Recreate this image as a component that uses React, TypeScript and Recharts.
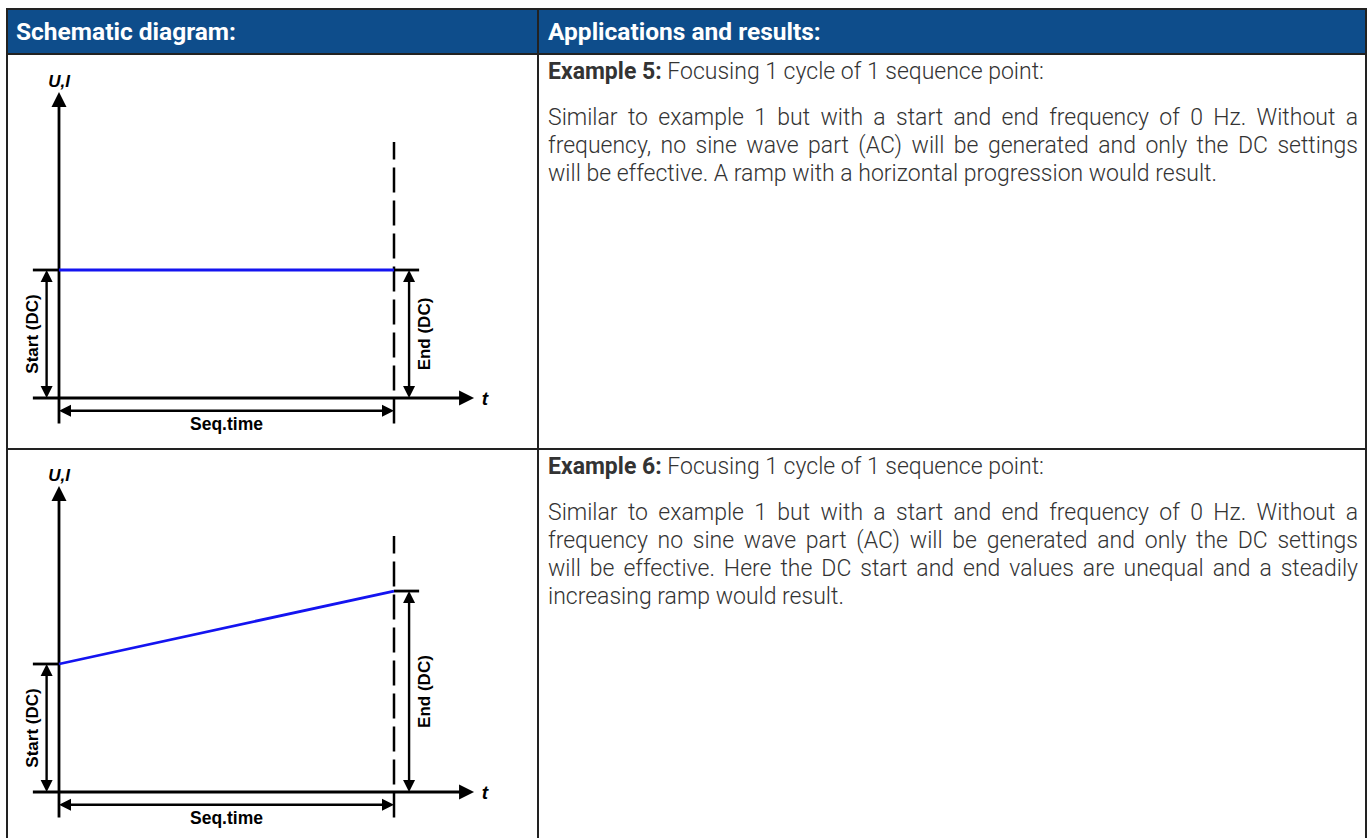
import React from 'react';
import { ComposedChart, Line, XAxis, YAxis, ReferenceLine, ReferenceDot } from 'recharts';

// ---- data ----
const timePoints = [0, 1]; // start / end of the sequence time (normalised)
const example5Dc = [5, 5]; // DC start / end (schematic units)
const example6Dc = [5, 7.85];

const headerLabels = ['Schematic diagram:', 'Applications and results:'];
const axisValueLabel = 'U,I';
const axisTimeLabel = 't';
const startLabel = 'Start (DC)';
const endLabel = 'End (DC)';
const durationLabel = 'Seq.time';

const example5Title = ['Example 5:', ' Focusing 1 cycle of 1 sequence point:'];
const example5Lines = [
  'Similar to example 1 but with a start and end frequency of 0 Hz. Without a',
  'frequency, no sine wave part (AC) will be generated and only the DC settings',
  'will be effective. A ramp with a horizontal progression would result.',
];
const example6Title = ['Example 6:', ' Focusing 1 cycle of 1 sequence point:'];
const example6Lines = [
  'Similar to example 1 but with a start and end frequency of 0 Hz. Without a',
  'frequency no sine wave part (AC) will be generated and only the DC settings',
  'will be effective. Here the DC start and end values are unequal and a steadily',
  'increasing ramp would result.',
];

// ---- schematic geometry (axis units) ----
const T_AXIS_FROM = -0.078;
const T_AXIS_TO = 1.239;
const V_AXIS_FROM = -1;
const V_AXIS_TO = 11.95;
const DASH_TOP = 10;
const START_ARROW_T = -0.037;
const END_ARROW_T = 1.045;
const END_TICK_T = 1.075;
const SEQ_ARROW_V = -0.5;

const INK = '#000';
const BLUE = '#1414f0';
const DIAG_FONT = '"Liberation Sans", Arial, sans-serif';

function headPath(tx: number, ty: number, dx: number, dy: number, len: number, half: number) {
  const bx = tx - dx * len;
  const by = ty - dy * len;
  const px = -dy;
  const py = dx;
  return `M${tx},${ty} L${bx + px * half},${by + py * half} L${bx - px * half},${by - py * half} Z`;
}

const arrowShape = (both: boolean, len: number, half: number, width: number) => (p: any) => {
  const { x1, y1, x2, y2 } = p;
  const L = Math.hypot(x2 - x1, y2 - y1) || 1;
  const dx = (x2 - x1) / L;
  const dy = (y2 - y1) / L;
  const sx = both ? x1 + dx * len * 0.6 : x1;
  const sy = both ? y1 + dy * len * 0.6 : y1;
  return (
    <g>
      <line x1={sx} y1={sy} x2={x2 - dx * len * 0.6} y2={y2 - dy * len * 0.6} stroke={INK} strokeWidth={width} />
      <path d={headPath(x2, y2, dx, dy, len, half)} fill={INK} />
      {both && <path d={headPath(x1, y1, -dx, -dy, len, half)} fill={INK} />}
    </g>
  );
};

const plainLine = (width: number, dash?: string) => (p: any) => (
  <line x1={p.x1} y1={p.y1} x2={p.x2} y2={p.y2} stroke={INK} strokeWidth={width} strokeDasharray={dash} />
);

const textShape =
  (label: string, opts: { size: number; italic?: boolean; rotate?: boolean; anchor?: string }) => (p: any) =>
    (
      <text
        x={p.cx}
        y={p.cy}
        fontFamily={DIAG_FONT}
        fontSize={opts.size}
        fontWeight="bold"
        fontStyle={opts.italic ? 'italic' : 'normal'}
        textAnchor={opts.anchor || 'middle'}
        dominantBaseline="central"
        fill={INK}
        transform={opts.rotate ? `rotate(-90 ${p.cx} ${p.cy})` : undefined}
      >
        {label}
      </text>
    );

function Schematic({ values, top }: { values: number[]; top: number }) {
  const data = timePoints.map((t, i) => ({ t, v: values[i] }));
  const [startV, endV] = values;
  return (
    <div style={{ position: 'absolute', left: 9, top, width: 528, height: 392 }}>
      <ComposedChart width={528} height={392} data={data} margin={{ top: 86, right: 143, bottom: 50, left: 50 }}>
        <XAxis dataKey="t" type="number" domain={[0, 1]} hide />
        <YAxis type="number" domain={[0, 10]} hide />
        <ReferenceLine
          segment={[{ x: 0, y: V_AXIS_FROM }, { x: 0, y: V_AXIS_TO }]}
          ifOverflow="visible"
          shape={arrowShape(false, 15, 7.5, 2.8)}
        />
        <ReferenceLine
          segment={[{ x: T_AXIS_FROM, y: 0 }, { x: T_AXIS_TO, y: 0 }]}
          ifOverflow="visible"
          shape={arrowShape(false, 15, 7.5, 2.8)}
        />
        <ReferenceLine
          segment={[{ x: 1, y: V_AXIS_FROM }, { x: 1, y: DASH_TOP }]}
          ifOverflow="visible"
          shape={plainLine(2.5, '25 8')}
        />
        <ReferenceLine segment={[{ x: T_AXIS_FROM, y: startV }, { x: 0, y: startV }]} ifOverflow="visible" shape={plainLine(2.8)} />
        <ReferenceLine segment={[{ x: 1, y: endV }, { x: END_TICK_T, y: endV }]} ifOverflow="visible" shape={plainLine(2.8)} />
        <ReferenceLine
          segment={[{ x: START_ARROW_T, y: 0 }, { x: START_ARROW_T, y: startV }]}
          ifOverflow="visible"
          shape={arrowShape(true, 12, 6, 2.4)}
        />
        <ReferenceLine
          segment={[{ x: END_ARROW_T, y: 0 }, { x: END_ARROW_T, y: endV }]}
          ifOverflow="visible"
          shape={arrowShape(true, 12, 6, 2.4)}
        />
        <ReferenceLine
          segment={[{ x: 0, y: SEQ_ARROW_V }, { x: 1, y: SEQ_ARROW_V }]}
          ifOverflow="visible"
          shape={arrowShape(true, 12, 6, 2.4)}
        />
        <Line dataKey="v" stroke={BLUE} strokeWidth={2.8} dot={false} isAnimationActive={false} />
        <ReferenceDot x={0} y={12.35} ifOverflow="visible" shape={textShape(axisValueLabel, { size: 17, italic: true })} />
        <ReferenceDot x={1.262} y={0} ifOverflow="visible" shape={textShape(axisTimeLabel, { size: 19, italic: true, anchor: 'start' })} />
        <ReferenceDot x={0.5} y={-1} ifOverflow="visible" shape={textShape(durationLabel, { size: 17.5 })} />
        <ReferenceDot x={-0.08} y={startV / 2} ifOverflow="visible" shape={textShape(startLabel, { size: 17, rotate: true })} />
        <ReferenceDot x={1.09} y={endV / 2} ifOverflow="visible" shape={textShape(endLabel, { size: 17, rotate: true })} />
      </ComposedChart>
    </div>
  );
}

const BORDER = '#222';
const HEADER_BLUE = '#0e4d8b';
const TEXT_COLOR = '#333';

function ExampleText({ title, lines, rowTop }: { title: string[]; lines: string[]; rowTop: number }) {
  const base = {
    position: 'absolute' as const,
    left: 548,
    width: 810,
    height: 28,
    lineHeight: '28px',
    fontSize: 23,
    fontWeight: 300,
    color: TEXT_COLOR,
    whiteSpace: 'nowrap' as const,
  };
  return (
    <>
      <div style={{ ...base, top: rowTop + 3 }}>
        <span style={{ fontWeight: 700 }}>{title[0]}</span>
        {title[1]}
      </div>
      {lines.map((ln, i) => (
        <div
          key={i}
          style={{
            ...base,
            top: rowTop + 49 + i * 28,
            textAlign: 'justify',
            textAlignLast: i === lines.length - 1 ? 'left' : 'justify',
          }}
        >
          {ln}
        </div>
      ))}
    </>
  );
}

export default function App() {
  const hLine = (top: number) => (
    <div style={{ position: 'absolute', left: 6, top, width: 1361, height: 2, background: BORDER }} />
  );
  const vLine = (left: number) => (
    <div style={{ position: 'absolute', left, top: 8, width: 2, height: 840, background: BORDER }} />
  );
  return (
    <div
      style={{
        position: 'absolute',
        left: 0,
        top: 0,
        width: 1371,
        height: 838,
        overflow: 'hidden',
        background: '#fff',
        fontFamily: 'Roboto, "Noto Sans", sans-serif',
      }}
    >
      <div style={{ position: 'absolute', left: 8, top: 10, width: 1357, height: 43, background: HEADER_BLUE }} />
      {headerLabels.map((h, i) => (
        <div
          key={h}
          style={{
            position: 'absolute',
            left: i === 0 ? 16 : 548,
            top: 10,
            height: 43,
            lineHeight: '43px',
            fontSize: 24.5,
            fontWeight: 700,
            color: '#fff',
            whiteSpace: 'nowrap',
          }}
        >
          {h}
        </div>
      ))}
      {hLine(8)}
      {hLine(53)}
      {hLine(448)}
      {vLine(6)}
      {vLine(537)}
      {vLine(1365)}

      <Schematic values={example5Dc} top={56} />
      <Schematic values={example6Dc} top={450} />

      <ExampleText title={example5Title} lines={example5Lines} rowTop={55} />
      <ExampleText title={example6Title} lines={example6Lines} rowTop={450} />
    </div>
  );
}
